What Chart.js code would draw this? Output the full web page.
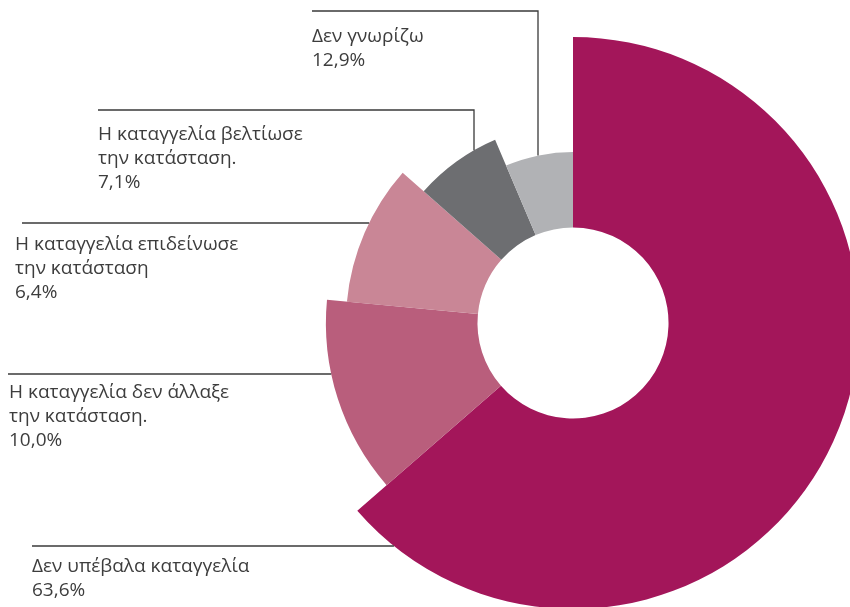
<!DOCTYPE html>
<html>
<head>
<meta charset="utf-8">
<script src="https://cdn.jsdelivr.net/npm/chart.js@4/dist/chart.umd.min.js"></script>
<style>
    html, body { margin: 0; padding: 0; background: #fff; overflow: hidden; }
    #wrap { position: absolute; left: 0; top: 0; width: 880px; height: 640px; }
</style>
</head>
<body>
<div id="wrap"><canvas id="donut" width="880" height="640"></canvas></div>
<script>
// Slices in drawing order (clockwise from 12 o'clock)
const labels = [
    'Δεν υπέβαλα καταγγελία',
    'Η καταγγελία δεν άλλαξε|την κατάσταση.',
    'Η καταγγελία επιδείνωσε|την κατάσταση',
    'Η καταγγελία βελτίωσε|την κατάσταση.',
    'Δεν γνωρίζω'
];
const shares = [63.6, 12.9, 10.0, 7.1, 6.4];
// percentages as printed on the original labels
const printedPct = ['63,6%', '10,0%', '6,4%', '7,1%', '12,9%'];

const colors = ['#a3165a', '#b95e7c', '#c98696', '#6d6e71', '#b1b2b5'];
// outer radius of each slice relative to the largest one
const reach = [1, 0.864, 0.794, 0.696, 0.598];

// label layout: where the text sits and how the leader line runs
// h = horizontal line at y ending on the slice, v = line over then down onto the slice
const labelLayout = [
    { x: 32, y: 572, line: 'h', ly: 546, lx: 32 },
    { x: 9, y: 398, line: 'h', ly: 374, lx: 8 },
    { x: 15, y: 250, line: 'h', ly: 223, lx: 22 },
    { x: 98, y: 140, line: 'v', ly: 110, lx: 98, vx: 474 },
    { x: 312, y: 42, line: 'v', ly: 11, lx: 312, vx: 538 }
];

const sliceReach = {
    id: 'sliceReach',
    afterDatasetUpdate(chart, args) {
        let meta = chart.getDatasetMeta(args.index);
        meta.data.forEach(function (arc, i) {
            arc.outerRadius = arc.outerRadius * reach[i];
        });
    }
};

const leaderLabels = {
    id: 'leaderLabels',
    afterDraw(chart) {
        let ctx = chart.ctx;
        let arcs = chart.getDatasetMeta(0).data;
        ctx.save();
        ctx.strokeStyle = '#3a3a3a';
        ctx.lineWidth = 1.3;
        ctx.fillStyle = '#3d3d3d';
        ctx.font = '19px "Open Sans"';
        ctx.textBaseline = 'alphabetic';
        arcs.forEach(function (arc, i) {
            let L = labelLayout[i];
            let cx = arc.x, cy = arc.y, R = arc.outerRadius;
            ctx.beginPath();
            if (L.line === 'h') {
                let dy = L.ly - cy;
                let ex = cx - Math.sqrt(R * R - dy * dy);
                ctx.moveTo(L.lx, L.ly);
                ctx.lineTo(ex, L.ly);
            } else {
                let dx = L.vx - cx;
                let ey = cy - Math.sqrt(R * R - dx * dx);
                ctx.moveTo(L.lx, L.ly);
                ctx.lineTo(L.vx, L.ly);
                ctx.lineTo(L.vx, ey);
            }
            ctx.stroke();

            let lines = labels[i].split('|');
            lines.push(printedPct[i]);
            lines.forEach(function (t, k) {
                ctx.fillText(t, L.x, L.y + k * 24);
            });
        });
        ctx.restore();
    }
};

new Chart(document.getElementById('donut').getContext('2d'), {
    type: 'doughnut',
    data: {
        labels: labels.map(function (l) { return l.replace('|', ' '); }),
        datasets: [{
            data: shares,
            backgroundColor: colors,
            borderWidth: 0
        }]
    },
    options: {
        responsive: false,
        animation: false,
        events: [],
        cutout: '33.4%',
        layout: { padding: { left: 287, right: 21, top: 37, bottom: 31 } },
        plugins: {
            legend: { display: false },
            tooltip: { enabled: false }
        }
    },
    plugins: [sliceReach, leaderLabels]
});
</script>
</body>
</html>
